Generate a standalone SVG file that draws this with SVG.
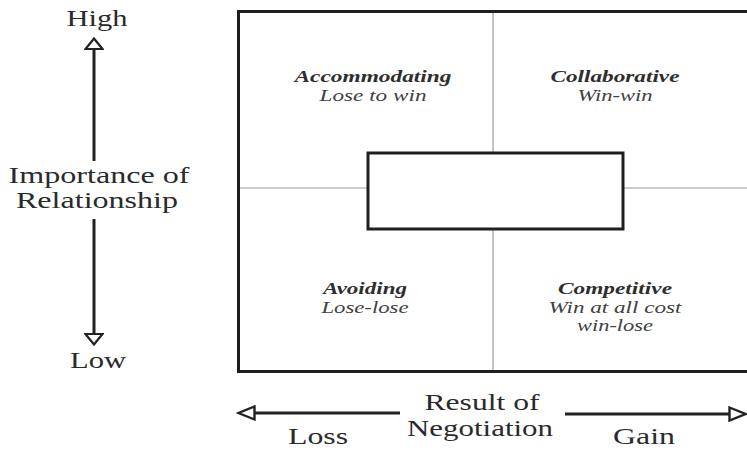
<svg xmlns="http://www.w3.org/2000/svg" width="747" height="451" viewBox="0 0 747 451">
  <style>
    .axis { font-family: "Liberation Serif", "Times New Roman", serif; font-size: 24px; fill: #2a2a2a; text-anchor: middle; }
    .title { font-family: "Liberation Serif", "Times New Roman", serif; font-size: 17px; font-weight: bold; font-style: italic; fill: #2e2e2e; text-anchor: middle; }
    .sub { font-family: "Liberation Serif", "Times New Roman", serif; font-size: 17px; font-style: italic; fill: #404040; text-anchor: middle; }
    .frame { fill: none; stroke: #1e1e1e; stroke-width: 3; }
    .box { fill: #fff; stroke: #1e1e1e; stroke-width: 3; }
    .divider { stroke: #9a9a9a; stroke-width: 1.2; }
    .axisline { stroke: #222; stroke-width: 3; fill: none; }
  </style>
  <defs>
    <marker id="head-v" markerUnits="userSpaceOnUse" viewBox="0 0 13 20" refX="1" refY="10" markerWidth="13" markerHeight="20" orient="auto">
      <path d="M1,1.5 L11.5,10 L1,18.5 Z" fill="#fff" stroke="#222" stroke-width="2.2" stroke-linejoin="miter"/>
    </marker>
    <marker id="head-h" markerUnits="userSpaceOnUse" viewBox="0 0 20 16" refX="1" refY="8" markerWidth="20" markerHeight="16" orient="auto">
      <path d="M1.5,1.5 L17.5,8 L1.5,14.5 Z" fill="#fff" stroke="#222" stroke-width="2.4" stroke-linejoin="miter"/>
    </marker>
  </defs>

  <rect width="747" height="451" fill="#fff"/>

  <!-- quadrant grid -->
  <g id="grid">
    <line class="divider" x1="493" y1="12" x2="493" y2="371"/>
    <line class="divider" x1="239" y1="188" x2="747" y2="188"/>
    <rect class="frame" x="238.5" y="11.5" width="520" height="360"/>
  </g>

  <!-- empty centre box, covering the grid crossing -->
  <g id="center-box">
    <rect class="box" x="368" y="153" width="255" height="76"/>
  </g>

  <g id="accommodating">
    <text class="title" x="373" y="82" textLength="157" lengthAdjust="spacingAndGlyphs">Accommodating</text>
    <text class="sub" x="373" y="101" textLength="107" lengthAdjust="spacingAndGlyphs">Lose to win</text>
  </g>
  <g id="collaborative">
    <text class="title" x="615" y="82" textLength="129" lengthAdjust="spacingAndGlyphs">Collaborative</text>
    <text class="sub" x="615" y="101" textLength="75" lengthAdjust="spacingAndGlyphs">Win-win</text>
  </g>
  <g id="avoiding">
    <text class="title" x="365" y="294" textLength="84" lengthAdjust="spacingAndGlyphs">Avoiding</text>
    <text class="sub" x="365" y="313" textLength="87" lengthAdjust="spacingAndGlyphs">Lose-lose</text>
  </g>
  <g id="competitive">
    <text class="title" x="615" y="294" textLength="114" lengthAdjust="spacingAndGlyphs">Competitive</text>
    <text class="sub" x="615" y="313" textLength="133" lengthAdjust="spacingAndGlyphs">Win at all cost</text>
    <text class="sub" x="615" y="331" textLength="76" lengthAdjust="spacingAndGlyphs">win-lose</text>
  </g>

  <!-- axis labels -->
  <g id="importance-axis">
    <text class="axis" x="97" y="26" textLength="61" lengthAdjust="spacingAndGlyphs">High</text>
    <text class="axis" x="99" y="183" textLength="181" lengthAdjust="spacingAndGlyphs">Importance of</text>
    <text class="axis" x="97" y="208" textLength="162" lengthAdjust="spacingAndGlyphs">Relationship</text>
    <text class="axis" x="98" y="368" textLength="56" lengthAdjust="spacingAndGlyphs">Low</text>
  </g>
  <g id="result-axis">
    <text class="axis" x="482" y="410" textLength="115" lengthAdjust="spacingAndGlyphs">Result of</text>
    <text class="axis" x="480" y="436" textLength="146" lengthAdjust="spacingAndGlyphs">Negotiation</text>
    <text class="axis" x="318" y="444" textLength="60" lengthAdjust="spacingAndGlyphs">Loss</text>
    <text class="axis" x="644" y="444" textLength="62" lengthAdjust="spacingAndGlyphs">Gain</text>
  </g>

  <!-- arrows -->
  <g id="connectors">
    <line class="axisline" x1="94" y1="161" x2="94" y2="49" marker-end="url(#head-v)"/>
    <line class="axisline" x1="94" y1="219" x2="94" y2="334" marker-end="url(#head-v)"/>
    <line class="axisline" x1="400" y1="413" x2="255" y2="413" marker-end="url(#head-h)"/>
    <line class="axisline" x1="565" y1="414" x2="729" y2="414" marker-end="url(#head-h)"/>
  </g>
</svg>
